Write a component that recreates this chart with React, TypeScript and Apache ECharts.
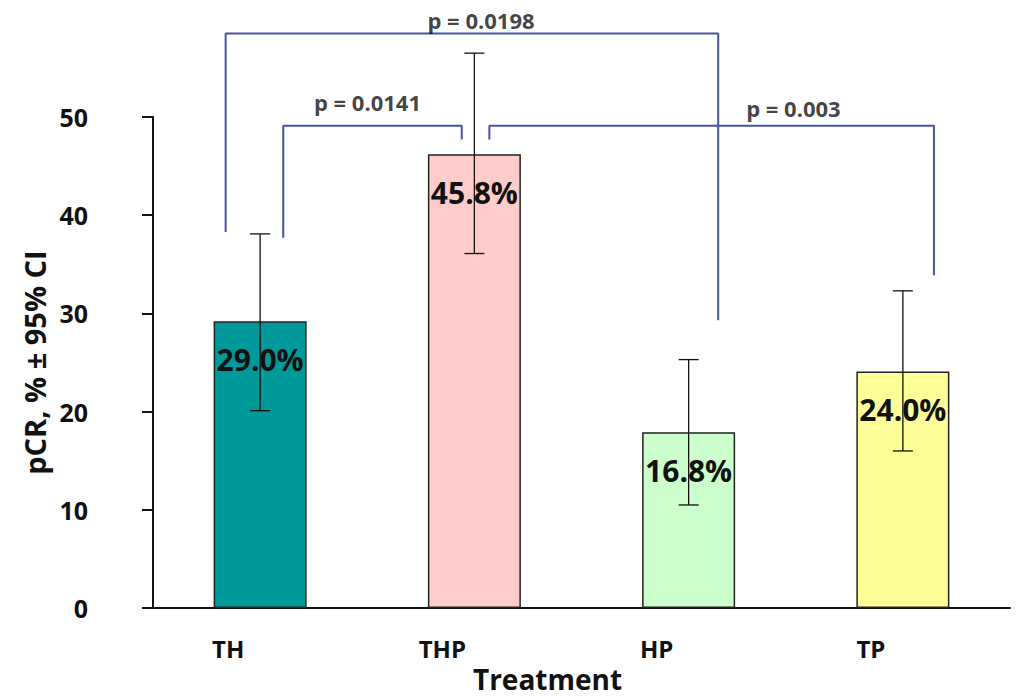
import React, { useEffect, useRef } from "react";
import * as echarts from "echarts";

const categories = ["TH", "THP", "HP", "TP"];
const barValues = [29.2, 46.2, 17.9, 24.1];
const barLabels = ["29.0%", "45.8%", "16.8%", "24.0%"];
const ciLow = [20.1, 36.1, 10.5, 16.0];
const ciHigh = [38.1, 56.5, 25.3, 32.3];
const barColors = ["#009999", "#ffcccc", "#ccffcc", "#ffff99"];

// significance brackets, in (category position, pCR) units
const bracket0198 = [[0.339, 38.3], [0.339, 58.5], [2.638, 58.5], [2.638, 29.3]];
const bracket0141 = [[0.608, 37.7], [0.608, 49.1], [1.441, 49.1], [1.441, 47.7]];
const bracket003 = [[1.57, 47.7], [1.57, 49.1], [3.645, 49.1], [3.645, 33.9]];
const pLabels = ["p = 0.0198", "p = 0.0141", "p = 0.003"];
const pLabelAt = [[1.531, 59.9], [1.001, 51.5], [2.989, 50.9]];

const FONT = "'Open Sans', 'Liberation Sans', sans-serif";
const INK = "#111111";
const BRACKET = "#4a52a3";

export default function App() {
  const ref = useRef<HTMLDivElement>(null);
  useEffect(() => {
    document.body.style.margin = "0";
    if (!ref.current) return;
    const chart = echarts.init(ref.current, undefined, { renderer: "svg" });
    const bracketSeries = [bracket0198, bracket0141, bracket003].map((b) => ({
      type: "line",
      xAxisIndex: 1,
      yAxisIndex: 0,
      data: b,
      symbol: "none",
      clip: false,
      silent: true,
      lineStyle: { color: BRACKET, width: 2 },
      z: 4,
    }));
    chart.setOption({
      animation: false,
      backgroundColor: "#ffffff",
      textStyle: { fontFamily: FONT },
      grid: { left: 153, right: 13, top: 117, bottom: 85, containLabel: false },
      xAxis: [
        {
          type: "category",
          data: categories,
          boundaryGap: true,
          axisLine: { lineStyle: { color: INK, width: 2 } },
          axisTick: { length: 10, lineStyle: { color: INK, width: 2 } },
          axisLabel: {
            fontSize: 24,
            fontWeight: "bold",
            color: INK,
            fontFamily: FONT,
            margin: 28,
            padding: [0, 64, 0, 0],
          },
          name: "Treatment",
          nameLocation: "middle",
          nameGap: 56,
          nameTextStyle: {
            fontSize: 28,
            fontWeight: "bold",
            color: INK,
            fontFamily: FONT,
            padding: [0, 68, 0, 0],
          },
          splitLine: { show: false },
        },
        { type: "value", min: 0, max: 4, show: false },
      ],
      yAxis: {
        type: "value",
        min: 0,
        max: 50,
        interval: 10,
        axisLine: { show: true, lineStyle: { color: INK, width: 2 } },
        axisTick: { show: true, length: 11, lineStyle: { color: INK, width: 2 } },
        axisLabel: {
          fontSize: 25,
          fontWeight: "bold",
          color: INK,
          fontFamily: FONT,
          margin: 65,
        },
        splitLine: { show: false },
        name: "pCR, % ± 95% CI",
        nameLocation: "middle",
        nameGap: 100,
        nameTextStyle: { fontSize: 29, fontWeight: "bold", color: INK, fontFamily: FONT },
      },
      series: [
        {
          type: "bar",
          xAxisIndex: 0,
          barWidth: 93,
          data: barValues.map((v, i) => ({
            value: v,
            itemStyle: { color: barColors[i] },
            label: { formatter: barLabels[i] },
          })),
          itemStyle: { borderColor: "#222222", borderWidth: 1.5 },
          label: {
            show: true,
            position: "insideTop",
            distance: 23,
            fontSize: 30,
            fontWeight: "bold",
            color: INK,
            fontFamily: FONT,
          },
          z: 2,
        },
        {
          type: "custom",
          xAxisIndex: 0,
          data: ciLow.map((l, i) => [i, l, ciHigh[i]]),
          encode: { x: 0, y: [1, 2] },
          renderItem: (params: any, api: any) => {
            const lo = api.coord([api.value(0), api.value(1)]);
            const hi = api.coord([api.value(0), api.value(2)]);
            const cap = 10;
            const style = { stroke: INK, lineWidth: 1.3 };
            return {
              type: "group",
              children: [
                { type: "line", shape: { x1: hi[0], y1: hi[1], x2: lo[0], y2: lo[1] }, style },
                { type: "line", shape: { x1: hi[0] - cap, y1: hi[1], x2: hi[0] + cap, y2: hi[1] }, style },
                { type: "line", shape: { x1: lo[0] - cap, y1: lo[1], x2: lo[0] + cap, y2: lo[1] }, style },
              ],
            };
          },
          clip: false,
          z: 5,
        },
        ...bracketSeries,
        {
          type: "scatter",
          xAxisIndex: 1,
          symbolSize: 1,
          itemStyle: { color: "rgba(0,0,0,0)" },
          clip: false,
          silent: true,
          data: pLabelAt.map((p, i) => ({ value: p, label: { formatter: pLabels[i] } })),
          label: {
            show: true,
            position: "inside",
            fontSize: 22,
            fontWeight: "bold",
            color: INK,
            fontFamily: FONT,
          },
          z: 6,
        },
      ],
    });
    return () => chart.dispose();
  }, []);
  return <div ref={ref} style={{ width: 1023, height: 698 }} />;
}
